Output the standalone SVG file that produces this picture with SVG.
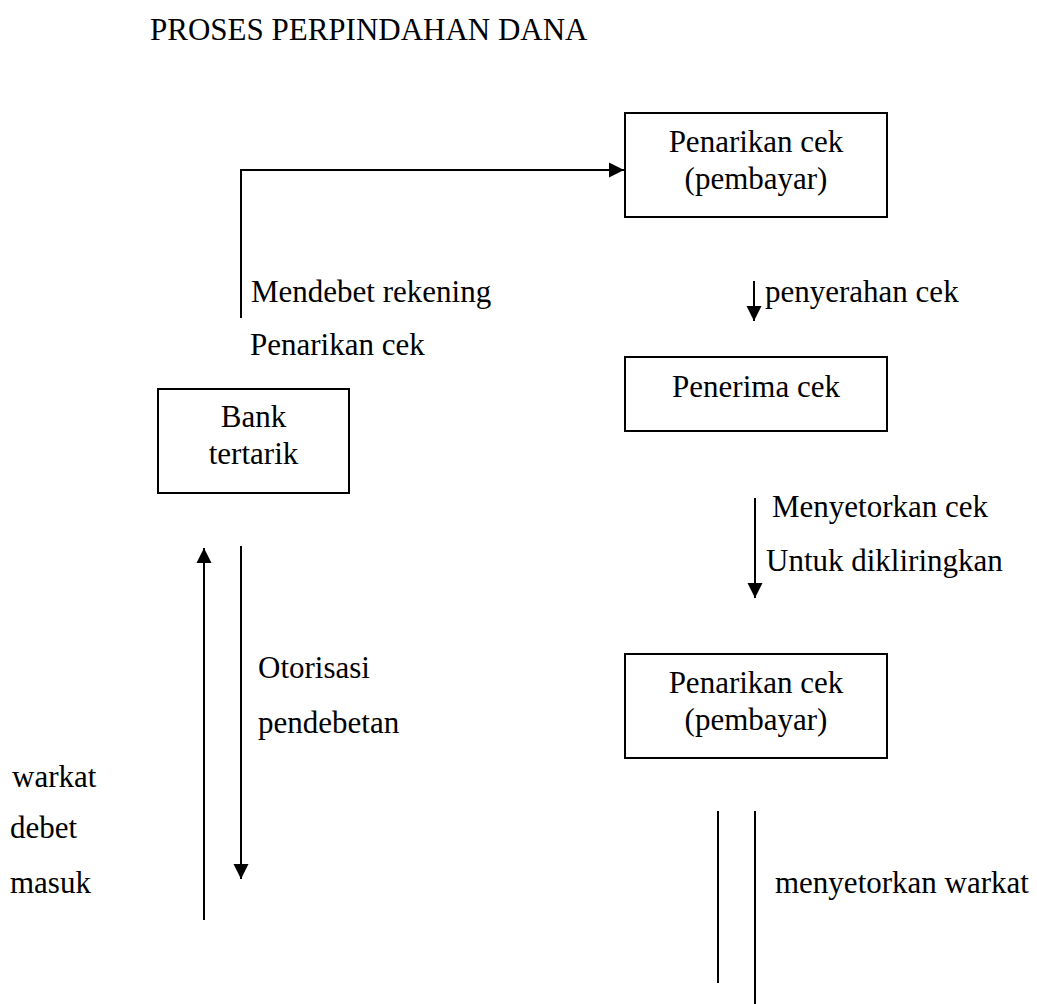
<svg xmlns="http://www.w3.org/2000/svg" width="1037" height="1004" viewBox="0 0 1037 1004">
<style>
text{font-family:"Liberation Serif","Times New Roman",serif;font-size:31px;fill:#000}
.box{fill:#fff;stroke:#000;stroke-width:2}
.ln{fill:none;stroke:#000;stroke-width:2}
.c{text-anchor:middle}
</style>
<defs>
<marker id="ah" markerUnits="userSpaceOnUse" markerWidth="16" markerHeight="16" viewBox="0 0 16 16" refX="15" refY="8" orient="auto">
<path d="M0,0.5 L15,8 L0,15.5 Z" fill="#000"/>
</marker>
</defs>
<rect width="1037" height="1004" fill="#fff"/>
<text x="150" y="40">PROSES PERPINDAHAN DANA</text>
<g id="connectors">
<polyline class="ln" points="241,318 241,170 624,170" marker-end="url(#ah)"/>
<line class="ln" x1="754" y1="281" x2="754" y2="321" marker-end="url(#ah)"/>
<line class="ln" x1="755" y1="498" x2="755" y2="598" marker-end="url(#ah)"/>
<line class="ln" x1="204" y1="920" x2="204" y2="548" marker-end="url(#ah)"/>
<line class="ln" x1="241" y1="546" x2="241" y2="879" marker-end="url(#ah)"/>
<line class="ln" x1="718" y1="811" x2="718" y2="983"/>
<line class="ln" x1="755" y1="811" x2="755" y2="1004"/>
</g>
<g id="labels">
<text x="251" y="302">Mendebet rekening</text>
<text x="250" y="355">Penarikan cek</text>
<text x="765" y="302">penyerahan cek</text>
<text x="772" y="517">Menyetorkan cek</text>
<text x="766" y="571">Untuk dikliringkan</text>
<text x="258" y="678">Otorisasi</text>
<text x="258" y="733">pendebetan</text>
<text x="12" y="787">warkat</text>
<text x="10" y="838">debet</text>
<text x="10" y="893">masuk</text>
<text x="775" y="893">menyetorkan warkat</text>
</g>
<g id="node-penarikan-1">
<rect class="box" x="625" y="113" width="262" height="104"/>
<text class="c" x="756" y="152">Penarikan cek</text>
<text class="c" x="756" y="189">(pembayar)</text>
</g>
<g id="node-penerima">
<rect class="box" x="625" y="357" width="262" height="74"/>
<text class="c" x="756" y="397">Penerima cek</text>
</g>
<g id="node-bank">
<rect class="box" x="158" y="389" width="191" height="104"/>
<text class="c" x="253.5" y="427">Bank</text>
<text class="c" x="253.5" y="464">tertarik</text>
</g>
<g id="node-penarikan-2">
<rect class="box" x="625" y="654" width="262" height="104"/>
<text class="c" x="756" y="693">Penarikan cek</text>
<text class="c" x="756" y="730">(pembayar)</text>
</g>
</svg>
